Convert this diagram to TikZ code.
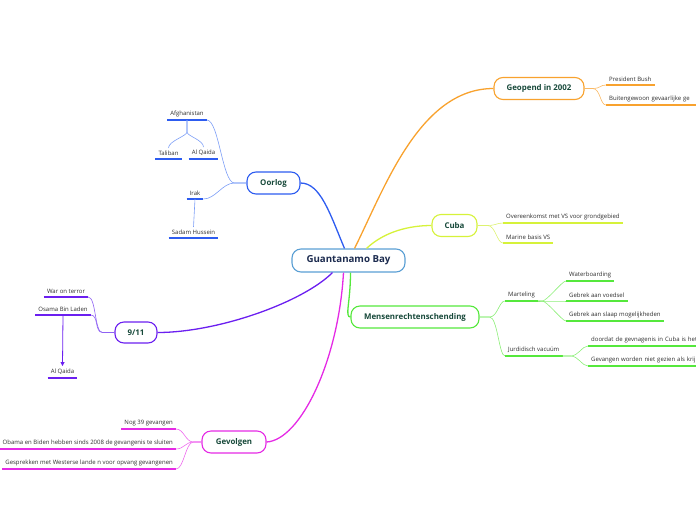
\documentclass[tikz,border=0pt]{standalone}
\usepackage{fontspec}
\setmainfont{Open Sans}
\usetikzlibrary{arrows.meta}
\definecolor{rootline}{HTML}{5A9FD4}
\definecolor{roottext}{HTML}{1C2B4F}
\definecolor{topictext}{HTML}{17493A}
\definecolor{leaftext}{HTML}{2E2E2E}
\definecolor{orangemain}{HTML}{F8A22E}
\definecolor{orangelt}{HTML}{FAB964}
\definecolor{limemain}{HTML}{D6F23A}
\definecolor{limelt}{HTML}{DDF270}
\definecolor{greenmain}{HTML}{55E83C}
\definecolor{greenlt}{HTML}{8CEE78}
\definecolor{bluemain}{HTML}{2D5CF0}
\definecolor{bluelt}{HTML}{7C9EF6}
\definecolor{purplemain}{HTML}{6B1FF0}
\definecolor{purplelt}{HTML}{8F62F3}
\definecolor{magentamain}{HTML}{E52AE5}
\definecolor{magentalt}{HTML}{EE6CEE}
\newcommand\leaffont{\fontsize{6}{7}\selectfont}
\newcommand\topicfont{\bfseries\fontsize{7.9}{9}\selectfont}
\begin{document}
\begin{tikzpicture}[x=1pt,y=-1pt]
\tikzset{
  root/.style={draw=rootline, line width=1.1pt, rounded corners=9pt, fill=white,
    minimum width=113pt, minimum height=23pt, inner sep=0pt,
    font=\bfseries\fontsize{9.7}{11}\selectfont, text=roottext},
  topic/.style={draw=#1, line width=1.1pt, rounded corners=9pt, fill=white,
    minimum height=22pt, inner sep=0pt, font=\topicfont, text=topictext},
  leaf/.style={font=\leaffont, text=leaftext, inner xsep=3pt, inner ysep=3pt},
  cutleaf/.style={leaf, text width=140pt, align=left},
  branch/.style={draw=#1, line width=1.3pt},
  twig/.style={draw=#1, line width=0.6pt},
}
\useasboundingbox (0,0) rectangle (696,520);
\clip (0,0) rectangle (696,520);

\node[root] (gb) at (348.5,260.5) {Guantanamo Bay};
\node[topic=orangemain, minimum width=90pt] (geopend) at (539,88.5) {Geopend in 2002};
\node[topic=limemain, minimum width=45pt] (cuba) at (454.5,225.5) {Cuba};
\node[topic=greenmain, minimum width=128pt] (mens) at (415,317) {Mensenrechtenschending};
\node[topic=bluemain, minimum width=53pt] (oorlog) at (273.5,183) {Oorlog};
\node[topic=purplemain, minimum width=42pt, minimum height=21pt] (nine) at (136,332.5) {9/11};
\node[topic=magentamain, minimum width=64pt] (gevolgen) at (234,442) {Gevolgen};

\node[leaf, anchor=south west] (bush) at (606,85) {President Bush};
\node[cutleaf, anchor=south west] (buiten) at (606,105) {Buitengewoon gevaarlijke ge};
\node[leaf, anchor=south west] (verdrag) at (503,223) {Overeenkomst met VS voor grondgebied};
\node[leaf, anchor=south west] (marine) at (503,243) {Marine basis VS};
\node[leaf, anchor=south west] (marteling) at (505,301) {Marteling};
\node[leaf, anchor=south west] (vacuum) at (505,356) {Jurdidisch vacuüm};
\node[leaf, anchor=south west] (water) at (566,281) {Waterboarding};
\node[leaf, anchor=south west] (voedsel) at (566,301) {Gebrek aan voedsel};
\node[leaf, anchor=south west] (slaap) at (566,321) {Gebrek aan slaap mogelijkheden};
\node[cutleaf, anchor=south west] (doordat) at (588,346) {doordat de gevnagenis in Cuba is het};
\node[cutleaf, anchor=south west] (krijg) at (588,366) {Gevangen worden niet gezien als krij};
\node[leaf, anchor=south] (afgh) at (187,120) {Afghanistan};
\node[leaf, anchor=south] (taliban) at (168.5,159) {Taliban};
\node[leaf, anchor=south] (qaidaa) at (203.5,159) {Al Qaida};
\node[leaf, anchor=south] (irak) at (195,199) {Irak};
\node[leaf, anchor=south] (sadam) at (193.5,238) {Sadam Hussein};
\node[leaf, anchor=south] (terror) at (66,297) {War on terror};
\node[leaf, anchor=south] (osama) at (63,315) {Osama Bin Laden};
\node[leaf, anchor=south] (qaidab) at (62.5,378) {Al Qaida};
\node[leaf, anchor=south east] (nog) at (176,429) {Nog 39 gevangen};
\node[leaf, anchor=south east] (obama) at (176,449) {Obama en Biden hebben sinds 2008 de gevangenis te sluiten};
\node[leaf, anchor=south east] (gesprek) at (176,469) {Gesprekken met Westerse lande n voor opvang gevangenen};

\draw[branch=bluemain] ([xshift=-4pt]gb.north) .. controls +(-14.5,-34.5) and +(20,0) .. (oorlog.east);
\draw[branch=orangemain] ([xshift=6pt]gb.north) .. controls +(30,-60) and +(-74,0) .. (geopend.west);
\draw[branch=limemain] ([xshift=18pt]gb.north) .. controls +(18,-17) and +(-22,0) .. (cuba.west);
\draw[branch=greenmain] ([xshift=2pt]gb.south) .. controls +(0,30) and +(-6,0) .. (mens.west);
\draw[branch=purplemain] ([xshift=-16pt]gb.south) .. controls +(-30,30) and +(60,0) .. (nine.east);
\draw[branch=magentamain] ([xshift=-5pt]gb.south) .. controls +(-5,88) and +(34,-2) .. (gevolgen.east);

\foreach \n/\c in {bush/orangemain, buiten/orangemain, verdrag/limemain, marine/limemain,
  marteling/greenmain, vacuum/greenmain, water/greenmain, voedsel/greenmain, slaap/greenmain,
  doordat/greenmain, krijg/greenmain, afgh/bluemain, taliban/bluemain, qaidaa/bluemain,
  irak/bluemain, sadam/bluemain, terror/purplemain, osama/purplemain, qaidab/purplemain,
  nog/magentamain, obama/magentamain, gesprek/magentamain}
  \draw[line width=1.2pt, \c] (\n.south west) -- (\n.south east);

\foreach \n in {bush, buiten}
  \draw[twig=orangelt] (geopend.east) -- ++(8,0) .. controls +(8,0) and +(-6,0) .. (\n.south west);
\foreach \n in {verdrag, marine}
  \draw[twig=limelt] (cuba.east) -- ++(10,0) .. controls +(8,0) and +(-6,0) .. (\n.south west);
\foreach \n in {marteling, vacuum}
  \draw[twig=greenlt] (mens.east) -- ++(10,0) .. controls +(8,0) and +(-6,0) .. (\n.south west);
\foreach \n in {water, voedsel, slaap}
  \draw[twig=greenlt] (marteling.south east) -- ++(4,0) .. controls +(5,0) and +(-4,0) .. (\n.south west);
\foreach \n in {doordat, krijg}
  \draw[twig=greenlt] (vacuum.south east) -- ++(8,0) .. controls +(8,0) and +(-6,0) .. (\n.south west);
\foreach \n in {afgh, irak}
  \draw[twig=bluelt] (oorlog.west) -- ++(-12,0) .. controls +(-12,0) and +(12,0) .. (\n.south east);
\foreach \n in {taliban, qaidaa}
  \draw[twig=bluelt] (afgh.south) -- ++(0,12) .. controls +(0,4) and +(0,-7) .. (\n.north);
\draw[twig=bluelt] (irak.south) -- (sadam.north);
\foreach \n in {terror, osama}
  \draw[twig=purplelt] (nine.west) -- ++(-12,0) .. controls +(-8,0) and +(8,0) .. (\n.south east);
\draw[purplemain, line width=0.8pt, -{Triangle[length=4pt,width=4pt]}] (osama.south) -- (qaidab.north);
\foreach \n in {nog, obama, gesprek}
  \draw[twig=magentalt] (gevolgen.west) -- ++(-8,0) .. controls +(-8,0) and +(8,0) .. (\n.south east);
\end{tikzpicture}
\end{document}
